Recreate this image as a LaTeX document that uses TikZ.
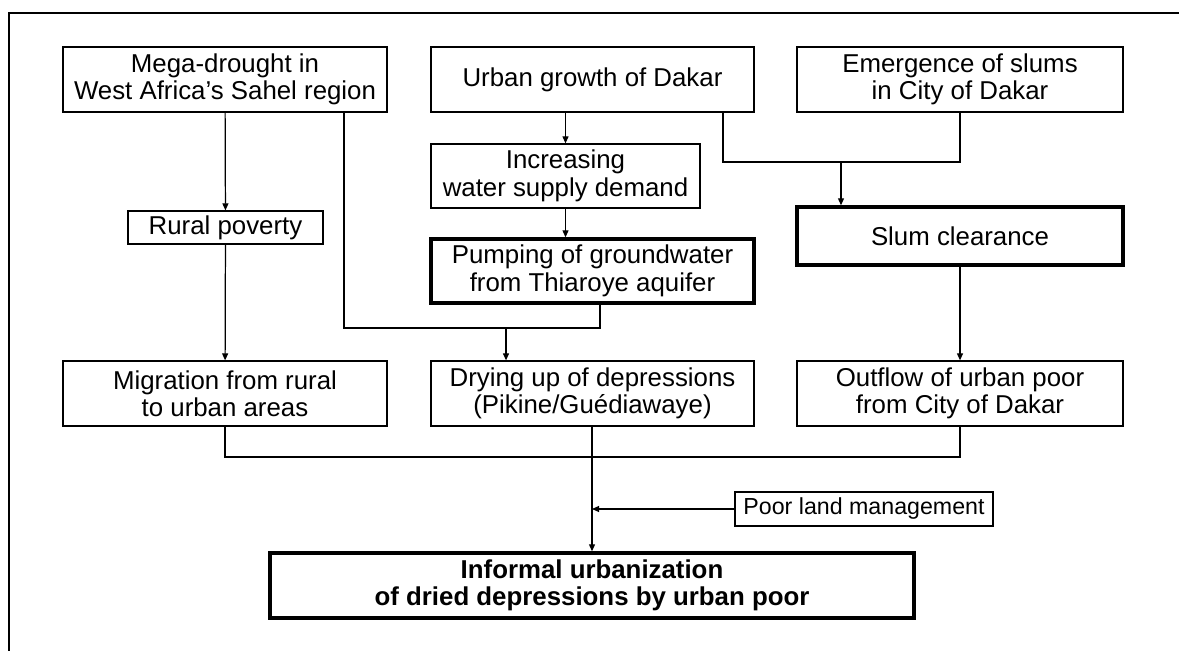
\documentclass[tikz,border=0pt]{standalone}
\usepackage{fontspec}
\setmainfont{Liberation Sans}
\usepackage{tikz}
\usetikzlibrary{arrows.meta}

\begin{document}
\begin{tikzpicture}[x=0.02cm, y=-0.02cm,
  box/.style={draw, line width=0.7pt, inner sep=0pt, align=center,
    font=\fontsize{14.7}{15.6}\selectfont},
  thickbox/.style={box, line width=1.9pt},
  arr/.style={-{Triangle[length=4pt, width=3.4pt]}},
  link/.style={line width=0.7pt}]
\useasboundingbox (0,0) rectangle (1179,651);
\draw[line width=1.2pt] (1179,13) -- (9,13) -- (9,651);

% top row
\node[box, minimum width=324*0.02cm, minimum height=65*0.02cm] (mega) at (225,79.5) {Mega-drought in\\West Africa's Sahel region};
\node[box, minimum width=323*0.02cm, minimum height=65*0.02cm] (urban) at (592.5,79.5) {Urban growth of Dakar};
\node[box, minimum width=326*0.02cm, minimum height=65*0.02cm] (slums) at (960,79.5) {Emergence of slums\\in City of Dakar};

% middle
\node[box, minimum width=195*0.02cm, minimum height=33*0.02cm] (rural) at (225.5,227.5) {Rural poverty};
\node[box, minimum width=269*0.02cm, minimum height=64*0.02cm] (water) at (565.5,176) {Increasing\\water supply demand};
\node[thickbox, minimum width=323*0.02cm, minimum height=64*0.02cm] (pump) at (592.5,271) {Pumping of groundwater\\from Thiaroye aquifer};
\node[thickbox, minimum width=326*0.02cm, minimum height=58*0.02cm] (clear) at (960,236) {Slum clearance};

% third row
\node[box, minimum width=324*0.02cm, minimum height=65*0.02cm] (migr) at (225,393.5) {Migration from rural\\to urban areas};
\node[box, minimum width=323*0.02cm, minimum height=65*0.02cm] (dry) at (592.5,393.5) {Drying up of depressions\\(Pikine/Guédiawaye)};
\node[box, minimum width=326*0.02cm, minimum height=65*0.02cm] (out) at (960,393.5) {Outflow of urban poor\\from City of Dakar};

% bottom
\node[box, minimum width=258*0.02cm, minimum height=34*0.02cm, font=\fontsize{13.2}{14}\selectfont] (land) at (864,509) {Poor land management};
\node[thickbox, minimum width=644*0.02cm, minimum height=65*0.02cm, font=\fontsize{14.7}{15.6}\selectfont\bfseries] (informal) at (592,585.5) {Informal urbanization\\of dried depressions by urban poor};

\coordinate (m2) at (344,328);
\coordinate (p2) at (600,328);
\coordinate (dj) at (506,328);
\coordinate (u2) at (723,162);
\coordinate (sj) at (841,162);
\coordinate (bj) at (592,457);
\coordinate (lj) at (592,509);

\draw[link, arr] (mega) -- (rural);
\draw[link, arr] (rural) -- (migr);
\draw[link] (mega.south -| m2) -- (m2) -- (p2) -- (pump.south -| p2);
\draw[link, arr] (dj) -- (dry.north -| dj);
\draw[link, arr] (urban.south -| water) -- (water);
\draw[link, arr] (water) -- (pump.north -| water);
\draw[link] (urban.south -| u2) -- (u2) -| (slums.south);
\draw[link, arr] (sj) -- (clear.north -| sj);
\draw[link, arr] (clear) -- (out);
\draw[link] (migr.south) |- (bj) -| (out.south);
\draw[link, arr] (dry.south -| bj) -- (informal.north -| bj);
\draw[link, arr] (land) -- (lj);
\end{tikzpicture}
\end{document}
